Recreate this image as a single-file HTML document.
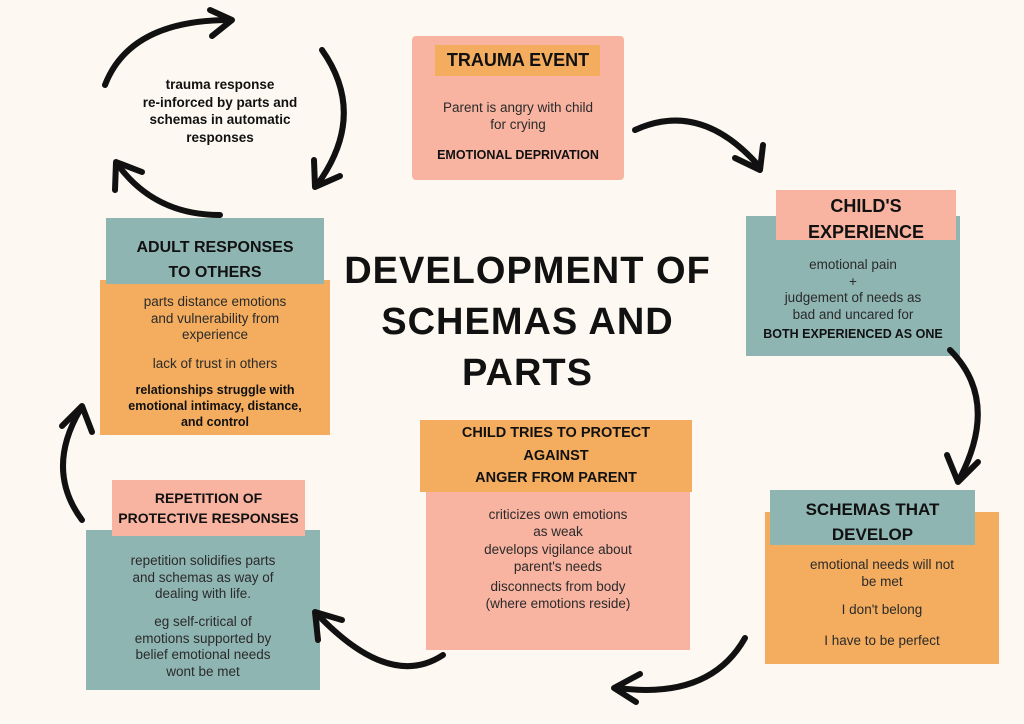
<!DOCTYPE html>
<html><head><meta charset="utf-8"><style>
body{margin:0;width:1024px;height:724px;background:#fdf9f2;position:relative;overflow:hidden;font-family:"Liberation Sans","DejaVu Sans",sans-serif;color:#222}
.b{position:absolute}
.pink{background:#f8b4a1}.teal{background:#8fb5b3}.or{background:#f4ad5e}
.t{position:absolute;text-align:center;font-size:13.5px;line-height:16.5px;color:#2a2a2a}
.h{position:absolute;text-align:center;font-weight:bold;color:#111}
.bb{font-weight:bold;font-size:12.5px;color:#111}
svg{position:absolute;left:0;top:0}
</style></head><body>
<div class="b pink" style="left:412px;top:36px;width:212px;height:144px;border-radius:4px"></div>
<div class="b or" style="left:435px;top:45px;width:165px;height:31px"></div>
<div class="h" style="left:412px;top:50px;width:212px;font-size:18px">TRAUMA EVENT</div>
<div class="t" style="left:412px;top:100px;width:212px">Parent is angry with child<br>for crying</div>
<div class="t bb" style="left:412px;top:147px;width:212px">EMOTIONAL DEPRIVATION</div>

<div class="b teal" style="left:746px;top:216px;width:214px;height:140px"></div>
<div class="b pink" style="left:776px;top:190px;width:180px;height:50px"></div>
<div class="h" style="left:776px;top:193px;width:180px;font-size:18px;line-height:26px">CHILD'S<br>EXPERIENCE</div>
<div class="t" style="left:746px;top:257px;width:214px">emotional pain<br>+<br>judgement of needs as<br>bad and uncared for</div>
<div class="t bb" style="left:746px;top:326px;width:214px">BOTH EXPERIENCED AS ONE</div>

<div class="b or" style="left:765px;top:512px;width:234px;height:152px"></div>
<div class="b teal" style="left:770px;top:490px;width:205px;height:55px"></div>
<div class="h" style="left:770px;top:497px;width:205px;font-size:17px;line-height:25px">SCHEMAS THAT<br>DEVELOP</div>
<div class="t" style="left:765px;top:557px;width:234px">emotional needs will not<br>be met</div>
<div class="t" style="left:765px;top:602px;width:234px">I don't belong</div>
<div class="t" style="left:765px;top:633px;width:234px">I have to be perfect</div>

<div class="b pink" style="left:426px;top:488px;width:264px;height:162px"></div>
<div class="b or" style="left:420px;top:420px;width:272px;height:72px"></div>
<div class="h" style="left:420px;top:422px;width:272px;font-size:14.5px;line-height:22.5px">CHILD TRIES TO PROTECT<br>AGAINST<br>ANGER FROM PARENT</div>
<div class="t" style="left:426px;top:507px;width:264px">criticizes own emotions<br>as weak</div>
<div class="t" style="left:426px;top:542px;width:264px">develops vigilance about<br>parent's needs</div>
<div class="t" style="left:426px;top:579px;width:264px">disconnects from body<br>(where emotions reside)</div>

<div class="b teal" style="left:86px;top:530px;width:234px;height:160px"></div>
<div class="b pink" style="left:112px;top:480px;width:193px;height:56px"></div>
<div class="h" style="left:112px;top:488px;width:193px;font-size:14px;line-height:20px">REPETITION OF<br>PROTECTIVE RESPONSES</div>
<div class="t" style="left:86px;top:553px;width:234px">repetition solidifies parts<br>and schemas as way of<br>dealing with life.</div>
<div class="t" style="left:86px;top:614px;width:234px">eg self-critical of<br>emotions supported by<br>belief emotional needs<br>wont be met</div>

<div class="b or" style="left:100px;top:280px;width:230px;height:155px"></div>
<div class="b teal" style="left:106px;top:218px;width:218px;height:66px"></div>
<div class="h" style="left:106px;top:235px;width:218px;font-size:16px;line-height:25px">ADULT RESPONSES<br>TO OTHERS</div>
<div class="t" style="left:100px;top:294px;width:230px">parts distance emotions<br>and vulnerability from<br>experience</div>
<div class="t" style="left:100px;top:356px;width:230px">lack of trust in others</div>
<div class="t bb" style="left:100px;top:382px;width:230px;line-height:16px">relationships struggle with<br>emotional intimacy, distance,<br>and control</div>

<div class="t bb" style="left:120px;top:76px;width:200px;font-size:13.5px;line-height:17.5px">trauma response<br>re-inforced by parts and<br>schemas in automatic<br>responses</div>

<div class="h" style="left:340px;top:246px;width:375px;font-size:38px;line-height:51px;letter-spacing:1px">DEVELOPMENT OF<br>SCHEMAS AND<br>PARTS</div>
<svg width="1024" height="724" fill="none" stroke="#111" stroke-width="6" stroke-linecap="round" stroke-linejoin="round">
<path d="M635 130 Q700 100 758 165"/><path d="M735 158 L760 170 L763 145"/>
<path d="M950 350 Q1000 400 960 478"/><path d="M947 455 L958 482 L978 462"/>
<path d="M745 638 Q710 700 618 688"/><path d="M640 674 L614 688 L636 702"/>
<path d="M443 655 Q390 690 318 615"/><path d="M318 640 L315 612 L342 620"/>
<path d="M82 520 Q45 470 80 410"/><path d="M62 426 L82 406 L92 432"/>
<path d="M220 215 Q155 215 118 165"/><path d="M115 190 L116 162 L142 172"/>
<path d="M105 85 Q130 20 230 20"/><path d="M210 10 L232 20 L212 36"/>
<path d="M322 50 Q368 115 317 185"/><path d="M314 160 L315 187 L340 176"/>
</svg>
</body></html>
